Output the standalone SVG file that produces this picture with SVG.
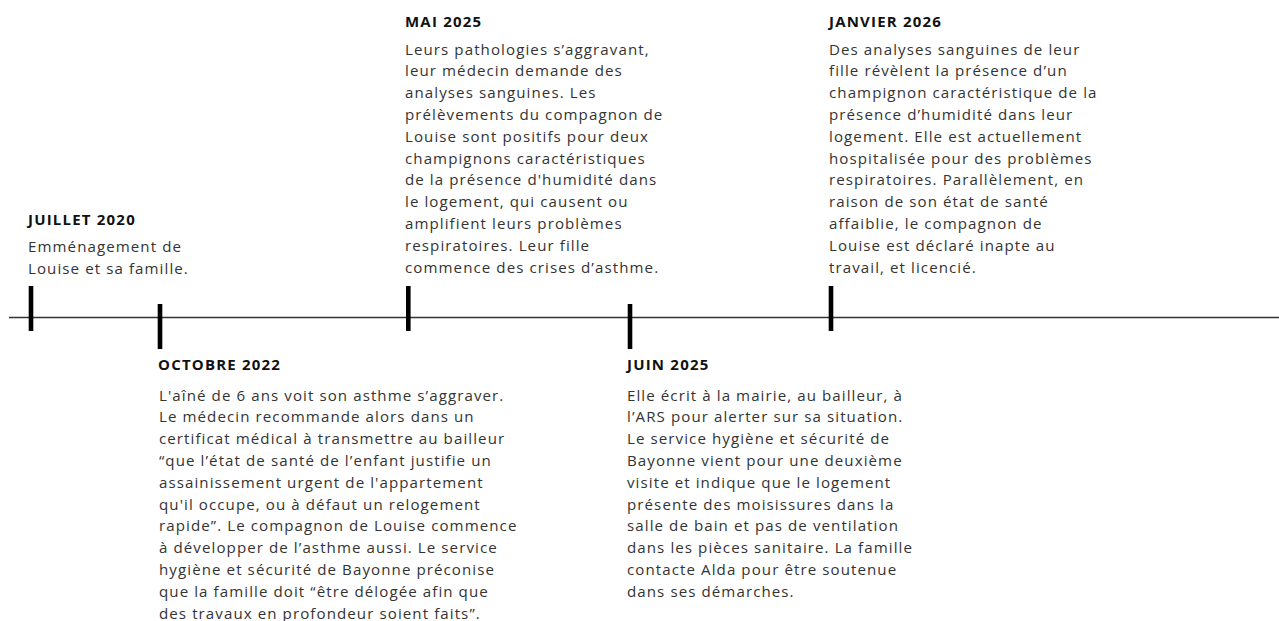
<svg xmlns="http://www.w3.org/2000/svg" width="1279" height="621" viewBox="0 0 1279 621">
<style>
.h{font-family:"Open Sans","Liberation Sans",sans-serif;font-weight:700;font-size:15px;letter-spacing:1.2px;fill:#111}
.b{font-family:"Open Sans","Liberation Sans",sans-serif;font-size:15.1px;letter-spacing:1.08px;fill:#333}
.tick{fill:#000}
</style>
<rect width="1279" height="621" fill="#fff"/>
<g id="connectors">
<line x1="9" y1="317.5" x2="1279" y2="317.5" stroke="#333" stroke-width="1.6"/>
</g>
<g id="node-juillet-2020">
<rect class="tick" x="28.7" y="286" width="4.6" height="45"/>
<text class="h" x="28" y="224.5">JUILLET 2020</text>
<text class="b" x="28" y="252"><tspan x="28">Emménagement de</tspan><tspan x="28" dy="21.8">Louise et sa famille.</tspan></text>
</g>
<g id="node-octobre-2022">
<rect class="tick" x="157.7" y="304" width="4.6" height="45"/>
<text class="h" x="158" y="369.5">OCTOBRE 2022</text>
<text class="b" x="159" y="400.5"><tspan x="159">L'aîné de 6 ans voit son asthme s’aggraver.</tspan><tspan x="159" dy="21.8">Le médecin recommande alors dans un</tspan><tspan x="159" dy="21.8">certificat médical à transmettre au bailleur</tspan><tspan x="159" dy="21.8">“que l’état de santé de l’enfant justifie un</tspan><tspan x="159" dy="21.8">assainissement urgent de l'appartement</tspan><tspan x="159" dy="21.8">qu'il occupe, ou à défaut un relogement</tspan><tspan x="159" dy="21.8">rapide”. Le compagnon de Louise commence</tspan><tspan x="159" dy="21.8">à développer de l’asthme aussi. Le service</tspan><tspan x="159" dy="21.8">hygiène et sécurité de Bayonne préconise</tspan><tspan x="159" dy="21.8">que la famille doit “être délogée afin que</tspan><tspan x="159" dy="21.8">des travaux en profondeur soient faits”.</tspan></text>
</g>
<g id="node-mai-2025">
<rect class="tick" x="406" y="286" width="4.6" height="45"/>
<text class="h" x="405" y="27">MAI 2025</text>
<text class="b" x="405" y="54.5"><tspan x="405">Leurs pathologies s’aggravant,</tspan><tspan x="405" dy="21.8">leur médecin demande des</tspan><tspan x="405" dy="21.8">analyses sanguines. Les</tspan><tspan x="405" dy="21.8">prélèvements du compagnon de</tspan><tspan x="405" dy="21.8">Louise sont positifs pour deux</tspan><tspan x="405" dy="21.8">champignons caractéristiques</tspan><tspan x="405" dy="21.8">de la présence d'humidité dans</tspan><tspan x="405" dy="21.8">le logement, qui causent ou</tspan><tspan x="405" dy="21.8">amplifient leurs problèmes</tspan><tspan x="405" dy="21.8">respiratoires. Leur fille</tspan><tspan x="405" dy="21.8">commence des crises d’asthme.</tspan></text>
</g>
<g id="node-juin-2025">
<rect class="tick" x="627.7" y="304" width="4.6" height="45"/>
<text class="h" x="627" y="370">JUIN 2025</text>
<text class="b" x="627" y="400.5"><tspan x="627">Elle écrit à la mairie, au bailleur, à</tspan><tspan x="627" dy="21.8">l’ARS pour alerter sur sa situation.</tspan><tspan x="627" dy="21.8">Le service hygiène et sécurité de</tspan><tspan x="627" dy="21.8">Bayonne vient pour une deuxième</tspan><tspan x="627" dy="21.8">visite et indique que le logement</tspan><tspan x="627" dy="21.8">présente des moisissures dans la</tspan><tspan x="627" dy="21.8">salle de bain et pas de ventilation</tspan><tspan x="627" dy="21.8">dans les pièces sanitaire. La famille</tspan><tspan x="627" dy="21.8">contacte Alda pour être soutenue</tspan><tspan x="627" dy="21.8">dans ses démarches.</tspan></text>
</g>
<g id="node-janvier-2026">
<rect class="tick" x="828.7" y="286" width="4.6" height="45"/>
<text class="h" x="829" y="27">JANVIER 2026</text>
<text class="b" x="829" y="54.5"><tspan x="829">Des analyses sanguines de leur</tspan><tspan x="829" dy="21.8">fille révèlent la présence d’un</tspan><tspan x="829" dy="21.8">champignon caractéristique de la</tspan><tspan x="829" dy="21.8">présence d’humidité dans leur</tspan><tspan x="829" dy="21.8">logement. Elle est actuellement</tspan><tspan x="829" dy="21.8">hospitalisée pour des problèmes</tspan><tspan x="829" dy="21.8">respiratoires. Parallèlement, en</tspan><tspan x="829" dy="21.8">raison de son état de santé</tspan><tspan x="829" dy="21.8">affaiblie, le compagnon de</tspan><tspan x="829" dy="21.8">Louise est déclaré inapte au</tspan><tspan x="829" dy="21.8">travail, et licencié.</tspan></text>
</g>
</svg>
